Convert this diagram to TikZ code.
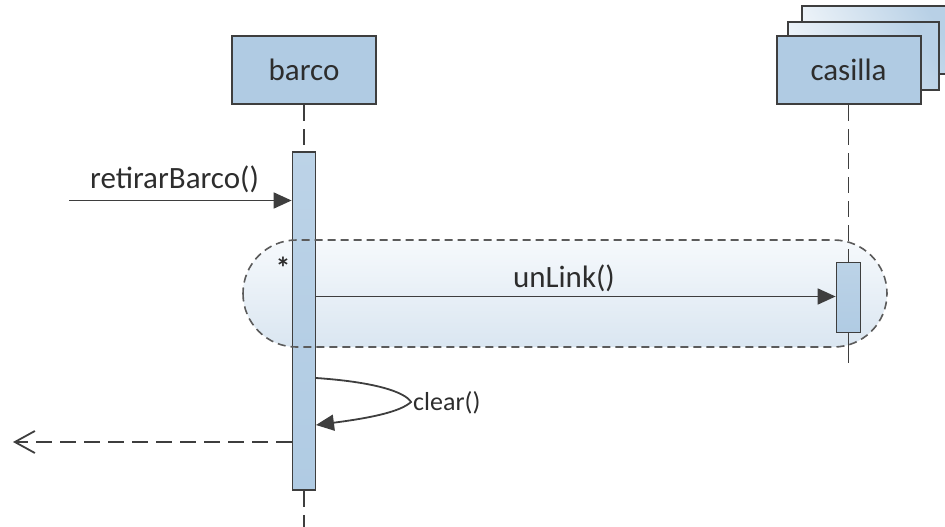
\documentclass[tikz,border=0pt]{standalone}
\usepackage{fontspec}
\setmainfont{Carlito}
\usetikzlibrary{arrows.meta}
\definecolor{boxfill}{RGB}{176,203,227}
\definecolor{boxline}{RGB}{62,62,62}
\definecolor{txt}{RGB}{45,45,45}
\definecolor{regtop}{RGB}{246,249,252}
\definecolor{regbot}{RGB}{218,230,241}
\tikzset{
  objbox/.style={draw=boxline, line width=2pt, fill=boxfill, minimum width=144pt, minimum height=68pt, inner sep=0pt, text=txt, font=\fontsize{31}{36}\selectfont},
  backbox/.style={draw=boxline, line width=2pt, left color=boxfill!90, right color=boxfill!20, shading angle=-60},
  actbox/.style={draw=boxline, line width=1.8pt, top color=boxfill!85, bottom color=boxfill, inner sep=0pt},
  lifeline/.style={draw=boxline, line width=1.8pt, dash pattern=on 16pt off 8pt},
  msg/.style={draw=boxline, line width=1.8pt, -{Triangle[length=18pt,width=16pt]}},
  ret/.style={draw=boxline, line width=1.8pt, dash pattern=on 16pt off 8pt, -{Straight Barb[length=20pt,width=22pt,line width=1.8pt]}},
  lbl/.style={text=txt, font=\fontsize{31}{36}\selectfont, inner sep=0pt, anchor=base},
  region/.style={rounded corners=53.5pt},
}
\begin{document}
\begin{tikzpicture}[x=1pt,y=-1pt]
\useasboundingbox (0,0) rectangle (945,527);
% loop region fill
\shade[region, top color=regtop, bottom color=regbot] (243,240) rectangle (887,347);
% casilla stacked boxes
\path[backbox] (802,6) rectangle (952,74);
\path[backbox] (788,22) rectangle (939,90);
\node[objbox] (casilla) at (848.5,70) {casilla};
\node[objbox] (barco) at (304,70) {barco};
% activations
\node[actbox, minimum width=23pt, minimum height=338pt] (actB) at (304,321) {};
\node[actbox, minimum width=24pt, minimum height=70pt] (actC) at (848.5,297.5) {};
% lifelines
\coordinate (endB) at (304,527);
\coordinate (endC) at (848.5,363);
\draw[lifeline] (barco.south) -- (actB.north);
\draw[lifeline] (actB.south) -- (endB);
\draw[lifeline] (casilla.south) -- (actC.north);
\draw[boxline, line width=1.8pt] (actC.south) -- (endC);
% region border
\draw[region, draw=boxline!85, line width=1.6pt, dash pattern=on 8pt off 5pt] (243,240) rectangle (887,347);
\node[text=txt, font=\fontsize{30}{32}\selectfont\bfseries, inner sep=0pt] (star) at (283,268) {*};
% messages
\coordinate (callIn) at (69,200.5);
\draw[msg] (callIn) -- (callIn -| actB.west);
\node[lbl] (lRet) at (174.5,188) {retirarBarco()};
\coordinate (unA) at (316,296.5);
\draw[msg] (unA -| actB.east) -- (unA -| actC.west);
\node[lbl] (lUn) at (564,287.5) {unLink()};
\coordinate (clS) at (316,378);
\coordinate (clT) at (411,402);
\coordinate (clE) at (316,425);
\draw[msg] (clS) .. controls (375,382) and (405,392) .. (clT) .. controls (400,412) and (370,418) .. (clE);
\node[lbl, anchor=base west, font=\fontsize{26}{30}\selectfont] (lClear) at (413,410) {clear()};
\coordinate (retY) at (0,442);
\coordinate (retEnd) at (13,442);
\draw[ret] (retY -| actB.west) -- (retEnd);
\end{tikzpicture}
\end{document}
